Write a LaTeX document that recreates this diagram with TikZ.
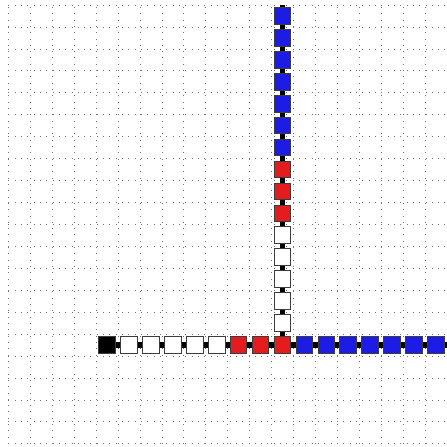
\documentclass[tikz,border=0pt]{standalone}
\usetikzlibrary{backgrounds}
\definecolor{sqblue}{RGB}{28,28,228}
\definecolor{sqred}{RGB}{228,28,30}
\definecolor{sqedge}{RGB}{60,60,60}
\tikzset{
  gridline/.style={black!55, line width=0.8pt, dash pattern=on 0.8pt off 7.4pt},
  cell/.style={draw=sqedge, line width=1.3pt, minimum size=0.76cm, inner sep=0pt, rectangle},
  wcell/.style={cell, fill=white},
  bcell/.style={cell, fill=black},
  rcell/.style={cell, fill=sqred},
  ucell/.style={cell, fill=sqblue},
  chainline/.style={black, line width=6.5pt}
}
\begin{document}
\begin{tikzpicture}
\useasboundingbox (-0.378,-0.137) rectangle (20,20.228);
% horizontal row
\node[bcell] (h0) at (4.5,4.5) {};
\foreach \i in {1,...,5} { \node[wcell] (h\i) at (4.5+\i,4.5) {}; }
\node[rcell] (h6) at (10.5,4.5) {};
\node[rcell] (h7) at (11.5,4.5) {};
\node[rcell] (c) at (12.5,4.5) {};
\foreach \i in {1,...,7} { \node[ucell] (r\i) at (12.5+\i,4.5) {}; }
% vertical column
\foreach \i in {1,...,5} { \node[wcell] (v\i) at (12.5,4.5+\i) {}; }
\foreach \i in {6,7,8} { \node[rcell] (v\i) at (12.5,4.5+\i) {}; }
\foreach \i in {9,...,15} { \node[ucell] (v\i) at (12.5,4.5+\i) {}; }
\coordinate (eR) at (20,4.5);
\coordinate (eT) at (12.5,20);
\begin{pgfonlayer}{background}
  \draw[gridline] (0,0) grid (20,20);
  \draw[chainline] (h0.center) -- (c.center) -- (r7.center) -- (eR);
  \draw[chainline] (c.center) -- (v15.center) -- (eT);
\end{pgfonlayer}
\end{tikzpicture}
\end{document}
